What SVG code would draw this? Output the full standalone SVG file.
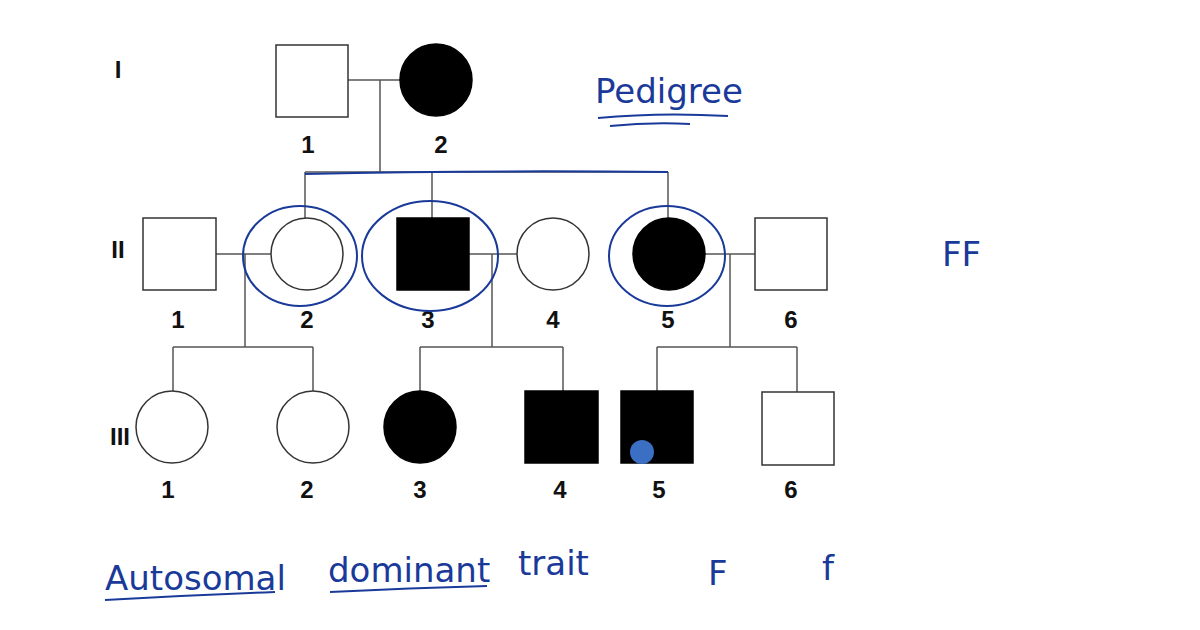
<svg xmlns="http://www.w3.org/2000/svg" width="1200" height="630" viewBox="0 0 1200 630">
<style>
.n{fill:#fff;stroke:#333;stroke-width:1.5}
.f{fill:#000;stroke:#000;stroke-width:1.5}
.l{stroke:#555;stroke-width:1.5;fill:none}
.lab{font-family:"Liberation Sans",Arial,sans-serif;font-weight:bold;font-size:24px;text-anchor:middle;fill:#111}
.hw{font-family:"DejaVu Sans",sans-serif;fill:#1a3a9a;font-size:34px}
.b{stroke:#1a3a9a;stroke-width:2;fill:none}
</style>
<rect width="1200" height="630" fill="#fff"/>
<g id="connectors">
<path class="l" d="M348 80H400M380 80V172M305 172H668M305 172V218M432 172V218M668 172V218"/>
<path class="l" d="M216 254H271M245 254V347M173 347H313M173 347V391M313 347V391"/>
<path class="l" d="M469 254H517M492 254V347M420 347H563M420 347V391M563 347V391"/>
<path class="l" d="M705 254H755M730 254V347M657 347H797M657 347V391M797 347V392"/>
</g>
<text class="lab" x="118" y="78" font-size="22">I</text>
<text class="lab" x="118" y="258" font-size="22">II</text>
<text class="lab" x="120" y="445" font-size="22">III</text>
<g id="I-1"><rect class="n" x="276" y="45" width="72" height="72"/><text class="lab" x="308" y="153">1</text></g>
<g id="I-2"><circle class="f" cx="436" cy="80" r="36"/><text class="lab" x="441" y="153">2</text></g>
<g id="II-1"><rect class="n" x="143" y="218" width="73" height="72"/><text class="lab" x="178" y="328">1</text></g>
<g id="II-2"><circle class="n" cx="307" cy="254" r="36"/><text class="lab" x="307" y="328">2</text></g>
<g id="II-3"><rect class="f" x="397" y="218" width="72" height="72"/><text class="lab" x="428" y="328">3</text></g>
<g id="II-4"><circle class="n" cx="553" cy="254" r="36"/><text class="lab" x="553" y="328">4</text></g>
<g id="II-5"><circle class="f" cx="669" cy="254" r="36"/><text class="lab" x="668" y="328">5</text></g>
<g id="II-6"><rect class="n" x="755" y="218" width="72" height="72"/><text class="lab" x="791" y="328">6</text></g>
<g id="III-1"><circle class="n" cx="172" cy="427" r="36"/><text class="lab" x="168" y="498">1</text></g>
<g id="III-2"><circle class="n" cx="313" cy="427" r="36"/><text class="lab" x="307" y="498">2</text></g>
<g id="III-3"><circle class="f" cx="420" cy="427" r="36"/><text class="lab" x="420" y="498">3</text></g>
<g id="III-4"><rect class="f" x="525" y="391" width="73" height="72"/><text class="lab" x="560" y="498">4</text></g>
<g id="III-5"><rect class="f" x="621" y="391" width="72" height="72"/><circle cx="642" cy="452" r="12" fill="#3a6fc4"/><text class="lab" x="659" y="498">5</text></g>
<g id="III-6"><rect class="n" x="762" y="392" width="72" height="73"/><text class="lab" x="791" y="498">6</text></g>
<g id="annotations">
<path class="b" d="M305 174Q480 170 668 172" stroke-width="3"/>
<ellipse class="b" cx="300" cy="256" rx="57" ry="50"/>
<ellipse class="b" cx="430" cy="256" rx="68" ry="55"/>
<ellipse class="b" cx="667" cy="256" rx="58" ry="50"/>
<text class="hw" x="595" y="103" font-size="36">Pedigree</text>
<path class="b" d="M598 118Q660 112 728 116M610 126Q650 122 690 124"/>
<text class="hw" x="942" y="266" font-size="40">FF</text>
<text class="hw" x="105" y="590" font-size="34">Autosomal</text>
<path class="b" d="M105 600Q190 595 275 592"/>
<text class="hw" x="328" y="582" font-size="30">dominant</text>
<path class="b" d="M330 592Q410 588 487 586"/>
<text class="hw" x="518" y="575" font-size="28">trait</text>
<text class="hw" x="708" y="585" font-size="40">F</text>
<text class="hw" x="822" y="580" font-size="40">f</text>
</g>
</svg>
